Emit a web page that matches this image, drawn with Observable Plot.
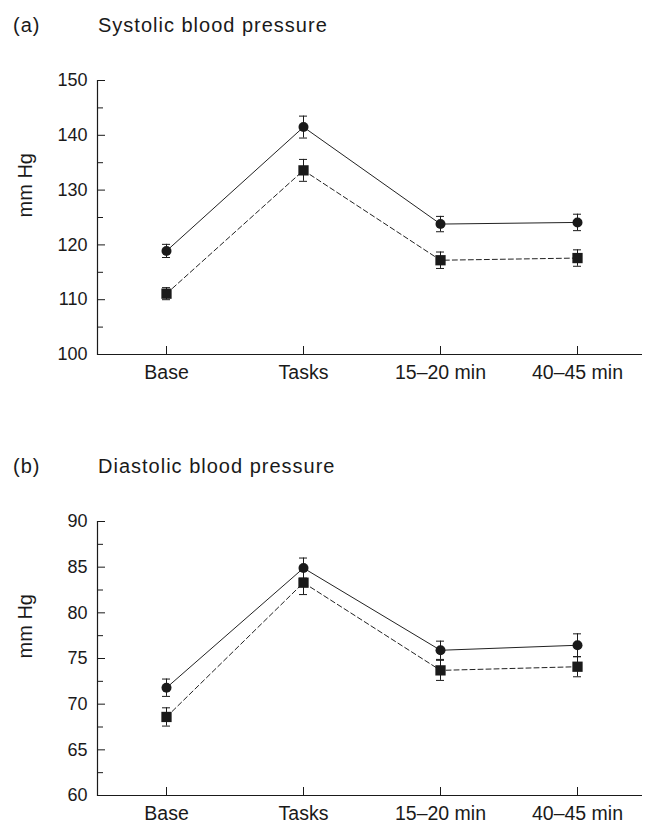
<!DOCTYPE html>
<html><head><meta charset="utf-8">
<script src="https://cdn.jsdelivr.net/npm/d3@7"></script>
<script src="https://cdn.jsdelivr.net/npm/@observablehq/plot@0.6"></script>
<style>
body{margin:0;background:#fff;font-family:"Liberation Sans",Arial,sans-serif;color:#1a1a1a}
#root{position:relative;width:646px;height:825px;overflow:hidden;background:#fff}
.lbl{position:absolute;font-size:20px;line-height:20px;letter-spacing:1px;white-space:nowrap;color:#1a1a1a}
.chart{position:absolute;left:0}
</style></head><body><div id="root"></div>
<script>
// categories (x axis)
const categories = ["Base", "Tasks", "15–20 min", "40–45 min"];

// (a) Systolic blood pressure, mm Hg
const sysCircle = [118.9, 141.5, 123.8, 124.1];
const sysCircleErr = [1.2, 2.0, 1.4, 1.5];
const sysSquare = [111.1, 133.6, 117.2, 117.6];
const sysSquareErr = [1.1, 2.0, 1.5, 1.5];
const sysMajorTicks = [100, 110, 120, 130, 140, 150];
const sysMinorTicks = [105, 115, 125, 135, 145];

// (b) Diastolic blood pressure, mm Hg
const diaCircle = [71.8, 84.9, 75.9, 76.45];
const diaCircleErr = [0.95, 1.1, 1.0, 1.25];
const diaSquare = [68.6, 83.3, 73.7, 74.1];
const diaSquareErr = [1.0, 1.3, 1.1, 1.1];
const diaMajorTicks = [60, 65, 70, 75, 80, 85, 90];
const diaMinorTicks = [62.5, 67.5, 72.5, 77.5, 82.5, 87.5];

const INK = "#1a1a1a";
const FONT = '"Liberation Sans", Arial, sans-serif';
const root = document.getElementById("root");

function addLabel(text, left, top) {
  const d = document.createElement("div");
  d.className = "lbl";
  d.textContent = text;
  d.style.left = left + "px";
  d.style.top = top + "px";
  root.appendChild(d);
}

function panel({top, letter, title, circle, circleErr, square, squareErr, domain, major, minor}) {
  addLabel(letter, 13, top + 15);
  addLabel(title, 98, top + 15);
  const rows = [];
  categories.forEach((c, i) => {
    rows.push({cat: c, group: "circle", v: circle[i], e: circleErr[i]});
    rows.push({cat: c, group: "square", v: square[i], e: squareErr[i]});
  });
  const g1 = rows.filter(d => d.group === "circle");
  const g2 = rows.filter(d => d.group === "square");
  const svg = Plot.plot({
    width: 646, height: 351,
    marginLeft: 97, marginRight: 0, marginTop: 31, marginBottom: 46,
    style: {fontFamily: FONT, fontSize: "18px", color: INK, background: "transparent", overflow: "visible"},
    x: {type: "point", domain: categories, padding: 0.5, label: null},
    y: {domain, label: null},
    marks: [
      Plot.ruleY([domain[0]], {stroke: INK, strokeWidth: 1.2, insetRight: 4}),
      Plot.frame({anchor: "left", stroke: INK, strokeWidth: 1.2}),
      Plot.axisY({ticks: major, tickSize: 0, tickPadding: 10, label: null, fontSize: 18}),
      Plot.axisY({ticks: major, tickSize: -8, fill: "none", label: null, stroke: INK}),
      Plot.axisY({ticks: minor, tickSize: -6, fill: "none", label: null, stroke: INK}),
      Plot.axisX({tickSize: 0, tickPadding: 11, label: null, fontSize: 19.5}),
      Plot.axisX({tickSize: -8, fill: "none", label: null, stroke: INK}),
      Plot.text(["mm Hg"], {frameAnchor: "left", dx: -72, rotate: -90, fontSize: 20, fill: INK, text: d => d}),
      Plot.line(g1, {x: "cat", y: "v", stroke: "#222", strokeWidth: 1}),
      Plot.line(g2, {x: "cat", y: "v", stroke: "#222", strokeWidth: 1, strokeDasharray: "5,3"}),
      Plot.ruleX(rows, {x: "cat", y1: d => d.v - d.e, y2: d => d.v + d.e, stroke: INK, strokeWidth: 1}),
      Plot.ruleY(rows, {x1: "cat", x2: "cat", y: d => d.v + d.e, insetLeft: -4, insetRight: -4, stroke: INK, strokeWidth: 1}),
      Plot.ruleY(rows, {x1: "cat", x2: "cat", y: d => d.v - d.e, insetLeft: -4, insetRight: -4, stroke: INK, strokeWidth: 1}),
      Plot.dot(g1, {x: "cat", y: "v", r: 5, fill: INK, symbol: "circle"}),
      Plot.dot(g2, {x: "cat", y: "v", r: 5.8, fill: INK, symbol: "square"})
    ]
  });
  svg.classList.add("chart");
  svg.style.top = (top + 49) + "px";
  root.appendChild(svg);
}

panel({top: 0, letter: "(a)", title: "Systolic blood pressure",
  circle: sysCircle, circleErr: sysCircleErr, square: sysSquare, squareErr: sysSquareErr,
  domain: [100, 150], major: sysMajorTicks, minor: sysMinorTicks});
panel({top: 441, letter: "(b)", title: "Diastolic blood pressure",
  circle: diaCircle, circleErr: diaCircleErr, square: diaSquare, squareErr: diaSquareErr,
  domain: [60, 90], major: diaMajorTicks, minor: diaMinorTicks});
</script>
</body></html>
